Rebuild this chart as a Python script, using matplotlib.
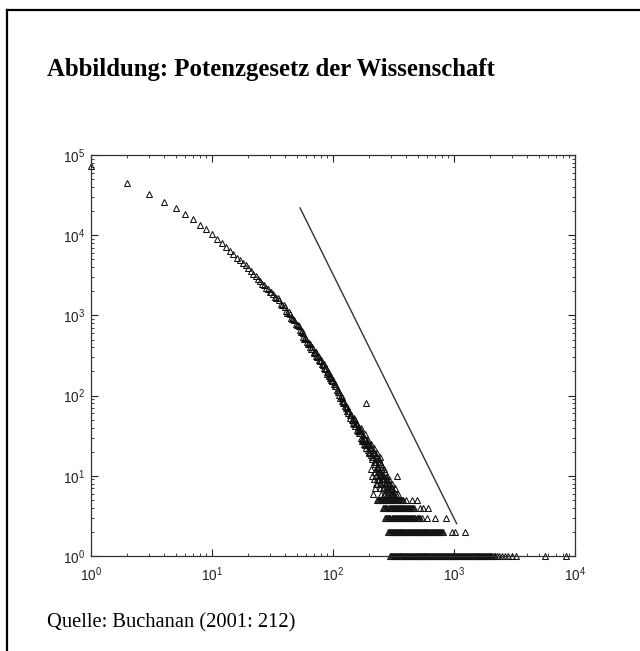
import matplotlib
matplotlib.use("Agg")
import matplotlib.pyplot as plt
from matplotlib.lines import Line2D

'''Data read off the scanned figure (counts per citation number)'''
main_x = [1, 2, 3, 4, 5, 6, 7, 8, 9, 10, 11, 12, 13, 14, 15, 16, 17, 18, 19, 20,
          21, 22, 23, 24, 25, 26, 27, 28, 29, 30, 32, 34, 36, 38, 40, 42, 44, 46, 48, 50,
          52, 54, 56, 58, 60, 62, 64, 66, 68, 70, 72, 74, 76, 78, 80, 82, 84, 86, 88, 90,
          92, 94, 96, 98, 100, 103, 106, 109, 112, 115, 118, 121, 124, 127, 130, 133, 136, 139, 142, 145,
          148, 151, 154, 157, 160, 163, 166, 169, 172, 175, 178, 181, 184, 187, 190, 193, 196, 199, 202, 205,
          208, 211, 214, 217, 220, 223, 226, 229, 232, 235, 238, 241, 244, 247, 250, 187]
main_y = [72000, 45000, 33000, 26000, 22000, 18600, 15700, 13400, 12000, 10300, 9000, 7900, 7100, 6300, 5850, 5250, 4950, 4480, 4230, 3850,
          3600, 3280, 3100, 2830, 2700, 2470, 2390, 2200, 2150, 1980, 1850, 1630, 1550, 1340, 1260, 1080, 1040, 890, 870, 750,
          730, 615, 600, 515, 505, 440, 440, 385, 385, 340, 345, 300, 305, 270, 275, 240, 245, 215, 218, 188,
          192, 168, 170, 150, 155, 130, 131, 110, 112, 94, 97, 81, 83, 70, 73, 60, 64, 52, 57, 46,
          52, 42, 46, 37, 41, 34, 38, 30, 34, 27, 32, 25, 29, 22, 27, 21, 25, 19, 24, 18,
          22, 16, 21, 15, 19, 14, 18, 13, 17, 12, 16, 11, 15, 10, 14, 80]

# odd citation numbers in the thick part of the curve
odd_x = [31, 33, 35, 37, 39, 41, 43, 45, 47, 49, 51, 53, 55, 57, 59, 61, 63, 65, 67, 69,
         71, 73, 75, 77, 79, 81, 83, 85, 87, 89, 91, 93, 95, 97, 99, 101, 104, 107, 110, 113,
         116, 119, 122, 125, 128, 131, 134, 137, 140, 143, 146, 149, 155, 161, 167, 173, 179, 185, 191, 197,
         203, 209, 215, 221, 227, 233, 239, 245]
odd_y = [1960, 1700, 1640, 1400, 1350, 1130, 1100, 940, 910, 790, 770, 650, 635, 545, 530, 460, 455, 400, 398, 352,
         353, 313, 314, 280, 281, 250, 251, 224, 224, 197, 197, 174, 176, 156, 157, 140, 138, 119, 118, 101,
         100, 86, 86, 75, 75, 65, 65, 57, 58, 50, 51, 44, 44, 36, 36, 29, 30, 24, 26, 20,
         23, 17, 20, 15, 17, 13, 15, 11]

# wide band between y = 6 and y = 50
band_x = [152, 158, 165, 171, 177, 183, 189, 195, 201, 207, 213, 219, 225, 231, 237, 243, 249, 253, 256, 259,
          262, 265, 268, 271, 274, 277, 280, 283, 286, 289, 292, 295, 298, 301, 305, 310, 316, 322, 330, 338,
          345, 228, 240, 222, 232, 246, 214, 260, 252, 275, 218, 236, 244, 266, 285, 226, 248, 270, 295, 310,
          205, 212, 221, 230, 238, 251, 258, 263, 272, 281, 290, 299, 307, 318, 326, 234, 242, 255, 264, 279]
band_y = [50, 44, 36, 39, 28, 33, 24, 28, 20, 25, 17, 22, 15, 19, 13, 17, 12, 10, 13, 9,
          12, 10, 8, 11, 9, 7, 10, 8, 6, 9, 7, 6, 8, 7, 6, 7, 6, 6, 6, 10,
          6, 10, 9, 7, 8, 7, 6, 8, 9, 7, 9, 11, 8, 7, 7, 8, 6, 6, 7, 8,
          12, 10, 11, 9, 10, 8, 7, 9, 8, 6, 8, 6, 7, 6, 7, 12, 11, 9, 6, 9]

# rows of small counts in the tail
row5_x = [230, 235, 240, 245, 250, 256, 262, 266, 270, 275, 280, 286, 292, 296, 300, 306, 312, 318,
          325, 331, 338, 344, 350, 357, 365, 372, 380, 400, 450, 495]
row4_x = [260, 265, 270, 276, 282, 288, 295, 300, 305, 311, 318, 324, 330, 336, 342, 349, 356, 363,
          370, 378, 385, 392, 400, 408, 415, 424, 432, 441, 450, 460, 470, 525, 557, 610]
row3_x = [268, 274, 280, 286, 292, 298, 305, 311, 318, 324, 330, 336, 343, 350, 357, 364, 372, 380,
          387, 395, 402, 410, 418, 426, 435, 444, 452, 461, 470, 480, 490, 500, 510, 525, 540,
          595, 700, 860]
row2_x = [285, 290, 296, 301, 307, 312, 318, 324, 330, 336, 342, 348, 355, 361, 368, 375, 382, 389,
          396, 403, 411, 418, 426, 434, 442, 450, 458, 466, 475, 484, 493, 502, 511, 520, 530, 540,
          550, 560, 570, 580, 591, 602, 613, 624, 636, 648, 660, 672, 685, 698, 711, 724, 738, 752,
          766, 780, 795, 811, 955, 1015, 1230]
row1_x = [295, 300, 306, 312, 318, 324, 330, 336, 342, 348, 355, 361, 368, 375, 382, 389, 396, 403,
          411, 418, 426, 434, 442, 450, 458, 466, 475, 484, 493, 502, 511, 520, 530, 540, 550, 560,
          570, 580, 591, 602, 613, 624, 636, 648, 660, 672, 685, 698, 711, 724, 738, 752, 766, 780,
          795, 810, 825, 840, 856, 872, 888, 904, 921, 938, 955, 972, 990, 1008, 1027, 1046, 1065, 1085,
          1105, 1125, 1146, 1168, 1189, 1211, 1233, 1256, 1279, 1303, 1327, 1351, 1376, 1402, 1428, 1454,
          1481, 1508, 1536, 1564, 1593, 1622, 1652, 1683, 1714, 1746, 1778, 1811, 1845, 1880, 1915, 1950,
          1990, 2030, 2080, 2130, 2180, 2260, 2350, 2500, 2650, 2800, 3000, 3250, 5700, 8500]

# reference power-law line (slope about -3)
line_x = [53.4, 1052]
line_y = [21900, 2.53]

plt.rcParams['font.family'] = 'sans-serif'
plt.rcParams['font.sans-serif'] = ['Liberation Sans', 'DejaVu Sans']
plt.rcParams['mathtext.default'] = 'regular'

fig = plt.figure(figsize=(6.4, 6.51), dpi=100)
fig.patch.set_facecolor('white')

# page frame (only left and top edges are visible)
fig.add_artist(Line2D([7/640, 7/640], [0, 1 - 10/651], transform=fig.transFigure, color='k', lw=1.6))
fig.add_artist(Line2D([7/640, 1], [1 - 10/651, 1 - 10/651], transform=fig.transFigure, color='k', lw=1.6))

ax = fig.add_axes([91/640, 1 - 556/651, (575 - 91)/640, (556 - 155)/651])
ax.set_xscale('log')
ax.set_yscale('log')

mk = dict(linestyle='none', marker='^', mfc='none', mec='#111111', ms=4.6, mew=0.75, clip_on=False)
ax.plot(main_x, main_y, **mk)
ax.plot(odd_x, odd_y, **mk)
ax.plot(band_x, band_y, **mk)
for yv, xs in [(5, row5_x), (4, row4_x), (3, row3_x), (2, row2_x), (1, row1_x)]:
    ax.plot(xs, [yv] * len(xs), **mk)

ax.plot(line_x, line_y, color='#333333', lw=1.0)

ax.set_xlim(1, 1e4)
ax.set_ylim(1, 1e5)
ax.tick_params(which='both', direction='in', top=True, right=True, labelsize=9.8, colors='#222222')
ax.tick_params(which='major', length=5)
ax.tick_params(axis='x', which='major', pad=7)
ax.tick_params(axis='y', which='major', pad=4)
ax.tick_params(which='minor', length=2.5)
for s in ax.spines.values():
    s.set_color('#333333')
    s.set_linewidth(0.9)

fig.text(47/640, 1 - 76/651, 'Abbildung: Potenzgesetz der Wissenschaft', fontsize=17.8,
         fontweight='bold', family='Liberation Serif', va='baseline')
fig.text(47/640, 1 - 627/651, 'Quelle: Buchanan (2001: 212)', fontsize=14.8,
         family='Liberation Serif', va='baseline')

plt.savefig('out.png', dpi=100)
